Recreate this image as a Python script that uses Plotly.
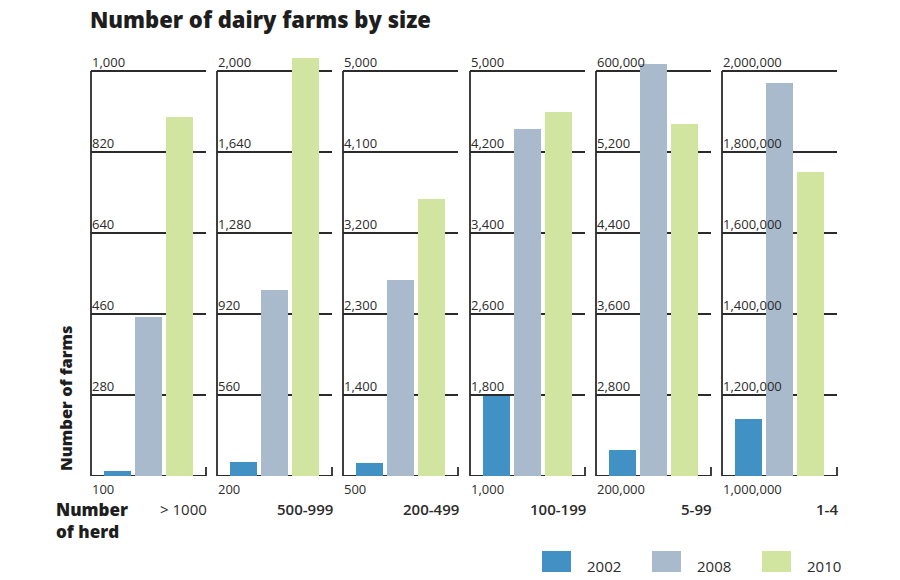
import plotly.graph_objects as go

# ---- data ----
herd_sizes = ["> 1000", "500-999", "200-499", "100-199", "5-99", "1-4"]
years = ["2002", "2008", "2010"]
v2002 = [112, 262, 648, 1787, 225700, 1140000]
v2008 = [454, 1025, 2678, 4424, 607000, 1970000]
v2010 = [897, 2059, 3574, 4598, 547700, 1751000]
axis_bottom = [100, 200, 500, 1000, 200000, 1000000]
axis_top = [1000, 2000, 5000, 5000, 600000, 2000000]
tick_labels = [
    ["100", "280", "460", "640", "820", "1,000"],
    ["200", "560", "920", "1,280", "1,640", "2,000"],
    ["500", "1,400", "2,300", "3,200", "4,100", "5,000"],
    ["1,000", "1,800", "2,600", "3,400", "4,200", "5,000"],
    ["200,000", "2,800", "3,600", "4,400", "5,200", "600,000"],
    ["1,000,000", "1,200,000", "1,400,000", "1,600,000", "1,800,000", "2,000,000"],
]
colors = ["#4191c5", "#a8bacb", "#d1e5a1"]

# ---- layout geometry (screen pixels; page body has an 8px margin) ----
OFF = 8
FW, FH = 900 - 2 * OFF, 580 - 2 * OFF


def px(x):
    return (x - OFF) / FW


def py(y):
    return 1 - (y - OFF) / FH


panel_left = [91, 217, 343, 470, 596, 722]
panel_w = 115
y_bottom_px, y_axtop_px, y_plot_top_px = 476, 71, 40
FONT = "Open Sans"
INK = "#2b2b2b"

fig = go.Figure()
shapes = []
annotations = []

for i in range(6):
    xa = "x" if i == 0 else f"x{i+1}"
    ya = "y" if i == 0 else f"y{i+1}"
    xkey = "xaxis" if i == 0 else f"xaxis{i+1}"
    ykey = "yaxis" if i == 0 else f"yaxis{i+1}"
    lo, hi = axis_bottom[i], axis_top[i]
    span = hi - lo
    ymax = lo + (y_bottom_px - y_plot_top_px) / (y_bottom_px - y_axtop_px) * span
    fig.update_layout({
        xkey: dict(domain=[px(panel_left[i]), px(panel_left[i] + panel_w)],
                   range=[-0.857, 2.857], visible=False, anchor=ya, fixedrange=True),
        ykey: dict(domain=[py(y_bottom_px), py(y_plot_top_px)],
                   range=[lo, ymax], visible=False, anchor=xa, fixedrange=True),
    })
    fig.add_trace(go.Bar(
        x=[0, 1, 2], y=[v2002[i], v2008[i], v2010[i]],
        marker=dict(color=colors, line=dict(width=0)),
        width=0.88, xaxis=xa, yaxis=ya, showlegend=False,
        hovertext=years, name=herd_sizes[i],
    ))
    step = span / 5
    tick_vals = [lo + k * step for k in range(6)]
    for k, tv in enumerate(tick_vals):
        shapes.append(dict(type="line", xref=f"{xa} domain", yref=ya,
                           x0=0, x1=1, y0=tv, y1=tv, layer="below",
                           line=dict(color=INK, width=1.8)))
        annotations.append(dict(xref=f"{xa} domain", yref=ya, x=0, y=tv,
                                text=tick_labels[i][k], showarrow=False,
                                xanchor="left",
                                yanchor="top" if k == 0 else "bottom",
                                yshift=-2, xshift=-1,
                                font=dict(family=FONT, size=13, color=INK)))
    shapes.append(dict(type="line", xref=f"{xa} domain", yref=ya,
                       x0=0, x1=0, y0=lo, y1=hi, layer="below",
                       line=dict(color=INK, width=1.8)))
    shapes.append(dict(type="line", xref=f"{xa} domain", yref=f"{ya} domain",
                       x0=1, x1=1, y0=0, y1=9 / (y_bottom_px - y_plot_top_px), layer="below",
                       line=dict(color=INK, width=1.8)))
    annotations.append(dict(xref=f"{xa} domain", yref="paper", x=1, y=py(509),
                            text=herd_sizes[i], showarrow=False,
                            xanchor="right", yanchor="middle", xshift=3,
                            font=dict(family=FONT, size=15, color=INK,
                                      weight=400 if i == 0 else 600)))

annotations.append(dict(xref="paper", yref="paper", x=px(88), y=py(19),
                        text="Number of dairy farms by size", showarrow=False,
                        xanchor="left", yanchor="middle",
                        font=dict(family=FONT, size=22, color="#1e1e1e", weight=800)))
annotations.append(dict(xref="paper", yref="paper", x=px(65), y=py(398),
                        text="Number of farms", showarrow=False, textangle=-90,
                        xanchor="center", yanchor="middle",
                        font=dict(family=FONT, size=16.5, color="#1e1e1e", weight=800)))
annotations.append(dict(xref="paper", yref="paper", x=px(54), y=py(520),
                        text="Number<br>of herd", showarrow=False, align="left",
                        xanchor="left", yanchor="middle",
                        font=dict(family=FONT, size=17, color="#1e1e1e", weight=800)))

legend_x = [542, 652, 762]
for j in range(3):
    shapes.append(dict(type="rect", xref="paper", yref="paper",
                       x0=px(legend_x[j]), x1=px(legend_x[j] + 29),
                       y0=0, y1=py(551), fillcolor=colors[j], line=dict(width=0)))
    annotations.append(dict(xref="paper", yref="paper", x=px(legend_x[j] + 43),
                            y=py(566), text=years[j], showarrow=False,
                            xanchor="left", yanchor="middle",
                            font=dict(family=FONT, size=15, color=INK)))

fig.update_layout(width=FW, height=FH, margin=dict(l=0, r=0, t=0, b=0),
                  paper_bgcolor="white", plot_bgcolor="rgba(0,0,0,0)",
                  shapes=shapes, annotations=annotations, showlegend=False,
                  bargap=0)
fig.write_html("out.html")
